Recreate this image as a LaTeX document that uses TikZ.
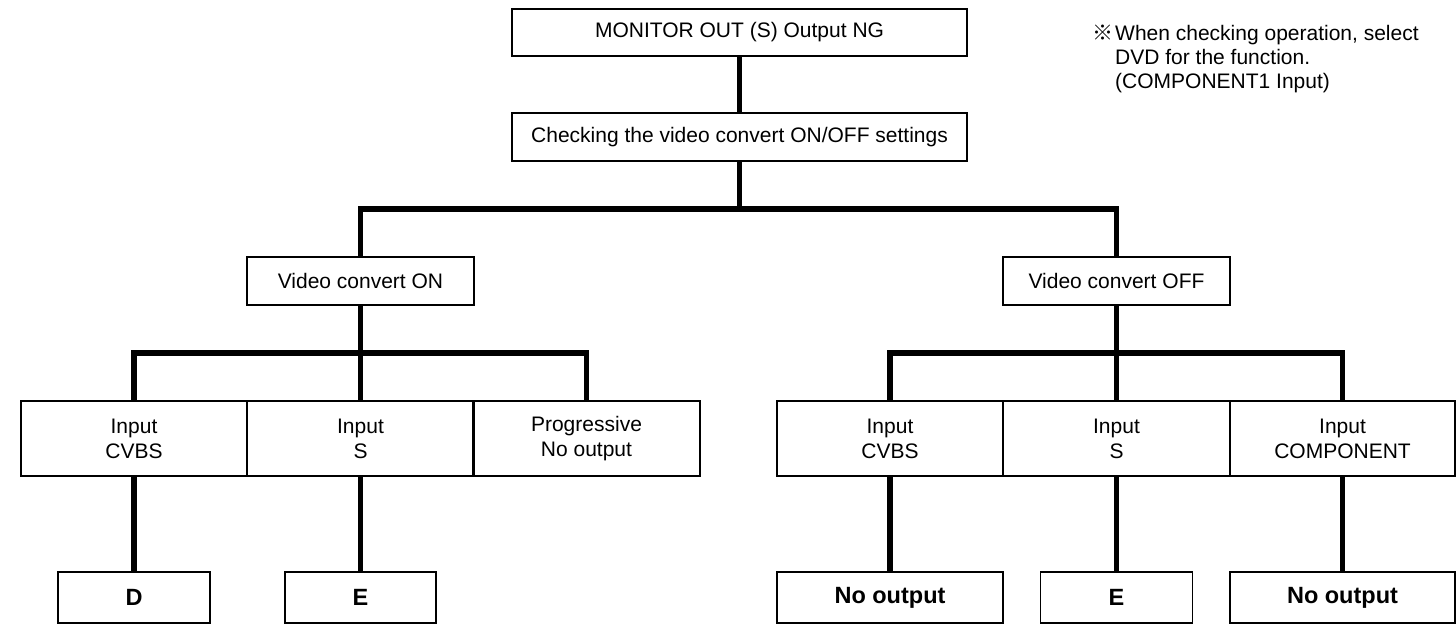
\documentclass[tikz,border=0pt]{standalone}
\usepackage{fontspec}
\setmainfont{Liberation Sans}
\newfontfamily\cjkfont{Noto Sans CJK JP}
\usepackage{tikz}
\usetikzlibrary{positioning}

\begin{document}
\begin{tikzpicture}[x=1pt, y=-1pt,
    box/.style={draw, line width=1.8pt, inner sep=0pt, align=center,
                font=\fontsize{21}{25}\selectfont},
    endbox/.style={box, minimum height=51pt, font=\fontsize{23.5}{28}\selectfont\bfseries},
    inbox/.style={box, minimum width=226.5pt, minimum height=75pt},
    link/.style={line width=5.5pt}]
    \useasboundingbox (0,0) rectangle (1456,625);

    \node[box, minimum width=455pt, minimum height=47pt] (monitor) at (739.5,32.5) {MONITOR OUT (S) Output NG};
    \node[box, minimum width=455pt, minimum height=48pt] (check) at (739.5,137) {Checking the video convert ON/OFF settings};
    \node[box, minimum width=227pt, minimum height=48pt] (convon) at (360.5,281) {Video convert ON};
    \node[box, minimum width=227pt, minimum height=48pt] (convoff) at (1116.5,281) {Video convert OFF};

    \node[inbox] (cvbsA) at (134,438.5) {Input\\CVBS};
    \node[inbox] (sA) at (360.5,438.5) {Input\\S};
    \node[inbox] (progA) at (586.5,438.5) {Progressive\\No output};
    \node[inbox] (cvbsB) at (890,438.5) {Input\\CVBS};
    \node[inbox] (sB) at (1116.5,438.5) {Input\\S};
    \node[inbox, minimum width=225pt] (compB) at (1342.5,438.5) {Input\\COMPONENT};

    \node[endbox, minimum width=152pt] (dA) at (134,597.5) {D};
    \node[endbox, minimum width=151pt] (eA) at (360.5,597.5) {E};
    \node[endbox, minimum width=226pt] (noB) at (890,597.5) {No output};
    \node[endbox, minimum width=152pt] (eB) at (1116.5,597.5) {E};
    \node[endbox, minimum width=225pt] (noC) at (1342.5,597.5) {No output};

    \node[anchor=base west, inner sep=0pt, font=\fontsize{21}{24}\selectfont] (note) at (1092,40)
        {\begin{tabular}[t]{@{}l@{\hspace{2pt}}l@{}}
         {\cjkfont ※} & When checking operation, select\\
                      & DVD for the function.\\
                      & (COMPONENT1 Input)
         \end{tabular}};

    \coordinate (fork) at (739.5,209);
    \coordinate (forkon) at (360.5,353);
    \coordinate (forkoff) at (1116.5,353);

    \draw[link] (monitor) -- (check);
    \draw[link] (check) -- (fork);
    \draw[link] (convon.north) |- (fork) -| (convoff.north);

    \draw[link] (convon) -- (sA);
    \draw[link] (cvbsA.north) |- (forkon) -| (progA.north);
    \draw[link] (convoff) -- (sB);
    \draw[link] (cvbsB.north) |- (forkoff) -| (compB.north);

    \draw[link] (cvbsA) -- (dA);
    \draw[link] (sA) -- (eA);
    \draw[link] (cvbsB) -- (noB);
    \draw[link] (sB) -- (eB);
    \draw[link] (compB) -- (noC);
\end{tikzpicture}
\end{document}
